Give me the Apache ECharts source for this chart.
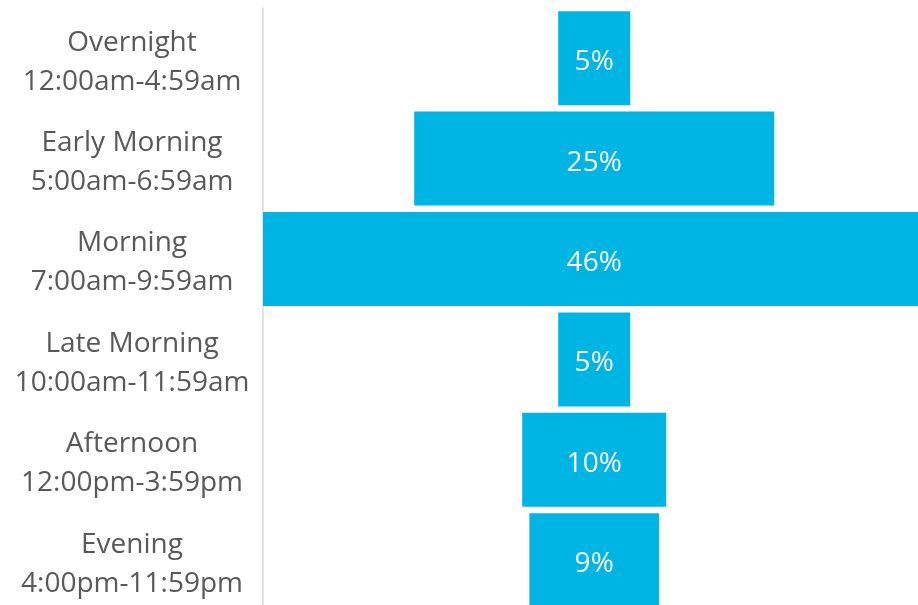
<!DOCTYPE html>
<html>
<head>
<meta charset="utf-8">
<script src="https://cdn.jsdelivr.net/npm/echarts@6/dist/echarts.min.js"></script>
<style>
  html, body { margin: 0; padding: 0; background: #ffffff; overflow: hidden; }
  /* the canvas runs a little past the window so the widest and last bars are cut at its edge */
  #chart { width: 926px; height: 612px; }
</style>
</head>
<body>
<div id="chart"></div>
<script>
// Time-of-day periods, their clock ranges and share of activity (%)
const periods = ['Overnight', 'Early Morning', 'Morning', 'Late Morning', 'Afternoon', 'Evening'];
const ranges = ['12:00am-4:59am', '5:00am-6:59am', '7:00am-9:59am', '10:00am-11:59am', '12:00pm-3:59pm', '4:00pm-11:59pm'];
const shares = [5, 25, 46, 5, 10, 9];

// Bars are centred on the midpoint of the widest bar, so each one is
// pushed right by an invisible spacer of (max - value) / 2.
const maxShare = Math.max(...shares);
const centre = maxShare / 2;
const spacers = shares.map(v => centre - v / 2);

// a thin blank first line sits the two text lines a little lower in each row
const labels = periods.map((p, i) => '{gap| }\n{t|' + p + '}\n{t|' + ranges[i] + '}');

const chart = echarts.init(document.getElementById('chart'), null, { renderer: 'canvas' });
chart.setOption({
  animation: false,
  backgroundColor: '#ffffff',
  grid: { left: 263, top: 8, width: 662.4, height: 602.4, containLabel: false },
  xAxis: {
    type: 'value', min: 0, max: maxShare,
    show: false
  },
  yAxis: {
    type: 'category',
    data: labels,
    inverse: true,
    axisLine: { show: true, lineStyle: { color: '#d9d9d9', width: 1.5 } },
    axisTick: { show: false },
    axisLabel: {
      margin: 131,
      align: 'center',
      color: '#595959',
      fontFamily: 'Open Sans',
      fontSize: 28,
      rich: {
        gap: { fontSize: 2, lineHeight: 8 },
        t: {
          color: '#595959',
          fontFamily: 'Open Sans',
          fontSize: 28,
          lineHeight: 39,
          align: 'center'
        }
      }
    }
  },
  series: [
    {
      type: 'bar', stack: 'share', silent: true,
      data: spacers,
      itemStyle: { color: 'transparent' },
      barWidth: 94
    },
    {
      type: 'bar', stack: 'share',
      data: shares,
      barWidth: 94,
      itemStyle: { color: '#00b4e4' },
      label: {
        show: true, position: 'inside',
        offset: [0, 4],
        formatter: p => p.value + '%',
        color: '#ffffff',
        fontFamily: 'Open Sans',
        fontSize: 28
      }
    }
  ]
});
</script>
</body>
</html>
